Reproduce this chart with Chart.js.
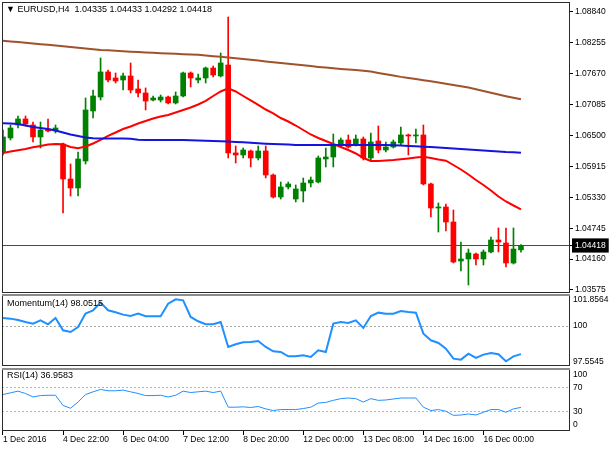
<!DOCTYPE html>
<html>
<head>
<meta charset="utf-8">
<script src="https://cdn.jsdelivr.net/npm/chart.js@4.4.0/dist/chart.umd.min.js"></script>
<style>
  html, body { margin: 0; padding: 0; background: #fff; }
  body { width: 610px; height: 450px; position: relative; overflow: hidden; font-family: 'Liberation Sans', Arial, sans-serif; }
  .pane { position: absolute; left: 0; width: 610px; }
  #mainPane { top: 0; height: 298px; }
  #momPane { top: 293px; height: 74px; }
  #rsiPane { top: 366px; height: 84px; }
  .caption { position: absolute; left: 7px; font-size: 9px; line-height: 11px; color: #000; white-space: pre; }
</style>
</head>
<body>
<div class="pane" id="mainPane"><canvas id="mainChart"></canvas></div>
<div class="pane" id="momPane"><canvas id="momChart"></canvas></div>
<div class="pane" id="rsiPane"><canvas id="rsiChart"></canvas></div>
<div class="caption" style="top:4px;left:6px">▼ EURUSD,H4  1.04335 1.04433 1.04292 1.04418</div>
<div class="caption" style="top:298px">Momentum(14) 98.0515</div>
<div class="caption" style="top:370px">RSI(14) 36.9583</div>
<script>
// EURUSD H4 candles
var opens = [1.06189, 1.06454, 1.06700, 1.06814, 1.06700, 1.06473, 1.06624, 1.06586, 1.06340, 1.05677,
  1.05507, 1.06018, 1.06965, 1.07230, 1.07704, 1.07590, 1.07552, 1.07628, 1.07382, 1.07306,
  1.07173, 1.07173, 1.07230, 1.07117, 1.07249, 1.07685, 1.07552, 1.07590, 1.07779, 1.07628,
  1.07836, 1.06170, 1.06132, 1.06208, 1.06075, 1.06208, 1.05753, 1.05336, 1.05526, 1.05298,
  1.05450, 1.05602, 1.05620, 1.06056, 1.06094, 1.06321, 1.06416, 1.06321, 1.06435, 1.06075,
  1.06397, 1.06226, 1.06283, 1.06359, 1.06511, 1.06492, 1.06511, 1.05583, 1.05128, 1.05147,
  1.04863, 1.04124, 1.04162, 1.04257, 1.04162, 1.04295, 1.04522, 1.04465, 1.04086, 1.04335]
var highs = [1.06605, 1.06700, 1.06870, 1.06870, 1.06757, 1.06757, 1.06814, 1.06700, 1.06359, 1.05961,
  1.06189, 1.07211, 1.07363, 1.07969, 1.07742, 1.07685, 1.07685, 1.07874, 1.07552, 1.07401,
  1.07249, 1.07268, 1.07249, 1.07325, 1.07704, 1.07704, 1.07666, 1.07798, 1.07817, 1.08064,
  1.08745, 1.06302, 1.06264, 1.06226, 1.06302, 1.06302, 1.05772, 1.05620, 1.05620, 1.05564,
  1.05696, 1.05715, 1.06113, 1.06264, 1.06529, 1.06454, 1.06511, 1.06511, 1.06473, 1.06548,
  1.06681, 1.06378, 1.06416, 1.06662, 1.06529, 1.06624, 1.06700, 1.05602, 1.05223, 1.05204,
  1.05090, 1.04484, 1.04351, 1.04276, 1.04333, 1.04579, 1.04749, 1.04749, 1.04749, 1.04433]
var lows = [1.06132, 1.06416, 1.06643, 1.06681, 1.06378, 1.06264, 1.06567, 1.06548, 1.05033, 1.05355,
  1.05355, 1.05961, 1.06833, 1.07173, 1.07514, 1.07495, 1.07363, 1.07306, 1.07230, 1.06984,
  1.07154, 1.07136, 1.07098, 1.07098, 1.07230, 1.07420, 1.07495, 1.07495, 1.07609, 1.07609,
  1.06075, 1.05980, 1.06075, 1.05905, 1.06037, 1.05696, 1.05317, 1.05298, 1.05488, 1.05242,
  1.05242, 1.05526, 1.05602, 1.05905, 1.05905, 1.06283, 1.06264, 1.06302, 1.06037, 1.06037,
  1.06170, 1.06189, 1.06264, 1.06321, 1.06132, 1.06359, 1.05564, 1.04958, 1.04673, 1.04692,
  1.04086, 1.03935, 1.03670, 1.04048, 1.04048, 1.04276, 1.04295, 1.04011, 1.04067, 1.04292]
var closes = [1.06473, 1.06643, 1.06814, 1.06719, 1.06473, 1.06605, 1.06586, 1.06643, 1.05677, 1.05507,
  1.06056, 1.06984, 1.07249, 1.07704, 1.07552, 1.07533, 1.07628, 1.07363, 1.07306, 1.07154,
  1.07211, 1.07230, 1.07117, 1.07249, 1.07685, 1.07590, 1.07590, 1.07779, 1.07647, 1.07874,
  1.06170, 1.06132, 1.06226, 1.06075, 1.06208, 1.05753, 1.05336, 1.05526, 1.05583, 1.05488,
  1.05602, 1.05658, 1.06075, 1.06094, 1.06321, 1.06416, 1.06283, 1.06435, 1.06075, 1.06378,
  1.06226, 1.06283, 1.06378, 1.06511, 1.06492, 1.06511, 1.05583, 1.05128, 1.05147, 1.04863,
  1.04105, 1.04162, 1.04276, 1.04162, 1.04295, 1.04522, 1.04484, 1.04086, 1.04351, 1.04418]

// moving averages
var maSlow = [1.08297, 1.08283, 1.08270, 1.08257, 1.08243, 1.08230, 1.08219, 1.08206, 1.08190, 1.08177,
  1.08162, 1.08149, 1.08134, 1.08120, 1.08113, 1.08105, 1.08096, 1.08088, 1.08081, 1.08073,
  1.08067, 1.08060, 1.08054, 1.08047, 1.08041, 1.08033, 1.08028, 1.08016, 1.08003, 1.07990,
  1.07976, 1.07963, 1.07950, 1.07935, 1.07920, 1.07904, 1.07889, 1.07874, 1.07859, 1.07844,
  1.07831, 1.07815, 1.07800, 1.07787, 1.07774, 1.07762, 1.07751, 1.07740, 1.07728, 1.07711,
  1.07685, 1.07660, 1.07636, 1.07611, 1.07590, 1.07569, 1.07547, 1.07526, 1.07503, 1.07480,
  1.07456, 1.07433, 1.07408, 1.07376, 1.07342, 1.07310, 1.07276, 1.07244, 1.07215, 1.07187]
var maMid = [1.06732, 1.06726, 1.06719, 1.06690, 1.06662, 1.06643, 1.06624, 1.06596, 1.06558, 1.06520,
  1.06492, 1.06463, 1.06448, 1.06444, 1.06444, 1.06443, 1.06444, 1.06441, 1.06420, 1.06416,
  1.06416, 1.06415, 1.06416, 1.06416, 1.06415, 1.06412, 1.06406, 1.06403, 1.06397, 1.06391,
  1.06386, 1.06378, 1.06372, 1.06363, 1.06353, 1.06346, 1.06340, 1.06334, 1.06329, 1.06323,
  1.06322, 1.06321, 1.06322, 1.06320, 1.06321, 1.06322, 1.06320, 1.06321, 1.06321, 1.06320,
  1.06320, 1.06319, 1.06315, 1.06310, 1.06302, 1.06297, 1.06289, 1.06283, 1.06274, 1.06264,
  1.06255, 1.06245, 1.06236, 1.06226, 1.06215, 1.06207, 1.06198, 1.06188, 1.06183, 1.06175]
var maFast = [1.06170, 1.06198, 1.06221, 1.06245, 1.06278, 1.06302, 1.06331, 1.06340, 1.06334, 1.06283,
  1.06259, 1.06293, 1.06350, 1.06416, 1.06492, 1.06558, 1.06624, 1.06672, 1.06728, 1.06776,
  1.06823, 1.06861, 1.06889, 1.06937, 1.06984, 1.07031, 1.07088, 1.07155, 1.07249, 1.07334,
  1.07395, 1.07334, 1.07249, 1.07164, 1.07079, 1.06993, 1.06918, 1.06832, 1.06766, 1.06690,
  1.06605, 1.06520, 1.06454, 1.06397, 1.06340, 1.06283, 1.06226, 1.06160, 1.06075, 1.06018,
  1.06018, 1.06028, 1.06037, 1.06050, 1.06066, 1.06084, 1.06100, 1.06075, 1.06047, 1.06024,
  1.05942, 1.05857, 1.05762, 1.05658, 1.05564, 1.05459, 1.05346, 1.05251, 1.05175, 1.05103]

// indicators
var momentum = [100.561, 100.515, 100.422, 100.284, 100.168, 100.399, 100.122, 100.561, 99.706, 99.590,
  99.937, 100.862, 101.093, 101.625, 101.093, 100.954, 100.793, 100.700, 100.862, 100.677,
  100.677, 100.677, 101.556, 101.8564, 101.787, 100.631, 100.330, 100.122, 100.122, 100.284,
  98.549, 98.734, 98.873, 98.896, 98.966, 98.549, 98.248, 98.202, 97.902, 97.902,
  97.971, 97.855, 98.318, 98.202, 100.168, 100.284, 100.214, 100.399, 99.867, 100.700,
  100.931, 100.862, 100.862, 101.047, 100.978, 100.931, 99.474, 99.012, 98.827, 98.434,
  97.740, 97.670, 98.086, 97.786, 98.017, 98.133, 98.040, 97.5545, 97.900, 98.0515]
var rsi = [58.2, 61.0, 63.8, 59.9, 54.2, 56.5, 57.0, 57.0, 40.1, 35.6,
  45.8, 58.2, 62.7, 66.6, 64.4, 64.4, 65.5, 62.7, 59.9, 56.5,
  56.5, 57.0, 54.2, 57.0, 63.8, 61.5, 62.7, 63.8, 61.5, 63.8,
  37.3, 37.3, 37.9, 36.8, 38.4, 34.5, 31.7, 33.4, 33.4, 33.4,
  35.1, 37.3, 44.1, 45.2, 48.6, 51.4, 52.5, 51.4, 45.8, 51.4,
  48.6, 49.2, 50.8, 52.5, 52.5, 52.5, 37.3, 31.7, 33.4, 30.6,
  23.8, 24.4, 26.1, 24.4, 28.9, 33.4, 33.4, 28.9, 34.5, 36.9583]

// axes
var xTickBars = [0, 8, 16, 24, 32, 40, 48, 56, 64]
var xTickLabels = ['1 Dec 2016', '4 Dec 22:00', '6 Dec 04:00', '7 Dec 12:00', '8 Dec 20:00',
  '12 Dec 00:00', '13 Dec 08:00', '14 Dec 16:00', '16 Dec 00:00']
var priceTicks = [1.03575, 1.04160, 1.04745, 1.05330, 1.05915, 1.06500, 1.07085, 1.07670, 1.08255, 1.08840]
var lastPrice = 1.04418
var momTicks = [97.5545, 100, 101.8564]
var rsiTicks = [0, 30, 70, 100]

var X_MIN = -0.13, X_MAX = 75.53
var GREEN = '#008000', RED = '#ff0000'
var FONT = { family: "'Liberation Sans', Arial, sans-serif", size: 8.5 }
var AXIS_W = 40

// thin frame round each panel, thicker grey edge on top of the sub panels
var panelFrame = {
  id: 'panelFrame',
  afterDraw: function(chart, args, opts) {
    var ctx = chart.ctx, a = chart.chartArea
    ctx.save()
    ctx.strokeStyle = '#2a2a2a'
    ctx.lineWidth = 1
    ctx.strokeRect(a.left + 0.5, a.top + 0.5, a.right - a.left - 1, a.bottom - a.top - 1)
    if (opts.band) {
      ctx.fillStyle = '#8c8c8c'
      ctx.fillRect(a.left, a.top, a.right - a.left, opts.band)
    }
    ctx.restore()
  }
}

// MT4 pulls the 100 / 0 labels inside the window
var edgeLabels = {
  id: 'edgeLabels',
  beforeDraw: function(chart, args, opts) {
    if (!opts.shift) return
    var items = chart.scales.y.getLabelItems()
    if (items.nudged) return
    items.forEach(function(it) {
      if (it.label === '100') it.options.translation[1] += opts.shift
      if (it.label === '0') it.options.translation[1] -= opts.shift
    })
    items.nudged = true
  }
}

// value axes sit flush with the panel, no label overhang padding
function flushY(s) {
  s.width = AXIS_W
  s.paddingTop = 0
  s.paddingBottom = 0
}

function xAxis(show) {
  return {
    type: 'linear', min: X_MIN, max: X_MAX, offset: false, display: show,
    afterBuildTicks: function(s) { s.ticks = xTickBars.map(function(v) { return { value: v } }) },
    afterFit: function(s) { if (show) s.height = 19; s.paddingLeft = 0; s.paddingRight = 0 },
    grid: { drawOnChartArea: false, drawTicks: true, tickLength: 4, tickColor: '#000', offset: false },
    border: { display: false },
    ticks: {
      autoSkip: false, maxRotation: 0, align: 'start', padding: 0, color: '#000', font: FONT,
      callback: function(v) { return xTickLabels[xTickBars.indexOf(v)] }
    }
  }
}

function baseOptions(pad) {
  return {
    animation: false, responsive: true, maintainAspectRatio: false, events: [],
    layout: { padding: pad },
    plugins: { legend: { display: false }, tooltip: { enabled: false } }
  }
}

function pts(arr) {
  return arr.map(function(v, i) { return { x: i, y: v } })
}

function candleColor(c) {
  return closes[c.dataIndex] >= opens[c.dataIndex] ? GREEN : RED
}

function DrawMain() {
  var opts = baseOptions({ top: 2, left: 2, right: 0, bottom: 5 })
  opts.plugins.panelFrame = {}
  opts.scales = {
    x: xAxis(false),
    y: {
      type: 'linear', position: 'right', min: 1.03518, max: 1.09029,
      afterFit: flushY,
      afterBuildTicks: function(s) {
        s.ticks = priceTicks.concat([lastPrice]).map(function(v) { return { value: v } })
      },
      grid: {
        drawOnChartArea: true, drawTicks: true, tickLength: 3, tickColor: '#000',
        color: function(c) { return c.tick && c.tick.value === lastPrice ? '#4a4a4a' : 'rgba(0,0,0,0)' }
      },
      border: { display: false },
      ticks: {
        autoSkip: false, padding: 2, font: FONT,
        color: function(c) { return c.tick && c.tick.value === lastPrice ? '#fff' : '#000' },
        showLabelBackdrop: function(c) { return !!(c.tick && c.tick.value === lastPrice) },
        backdropColor: '#000', backdropPadding: { x: 3, y: 2 },
        callback: function(v) { return v.toFixed(5) }
      }
    }
  }
  var lineSet = function(arr, color) {
    return { type: 'line', data: pts(arr), borderColor: color, borderWidth: 2, pointRadius: 0, tension: 0, order: 0 }
  }
  new Chart(document.getElementById('mainChart').getContext('2d'), {
    type: 'bar',
    data: {
      datasets: [
        lineSet(maSlow, '#a0522d'),
        lineSet(maMid, '#1414e0'),
        lineSet(maFast, '#ff0000'),
        {
          type: 'bar', order: 1, grouped: false, barThickness: 5, minBarLength: 1,
          data: opens.map(function(o, i) { return { x: i, y: [o, closes[i]] } }),
          backgroundColor: candleColor
        },
        {
          type: 'bar', order: 2, grouped: false, barThickness: 1,
          data: lows.map(function(l, i) { return { x: i, y: [l, highs[i]] } }),
          backgroundColor: candleColor
        }
      ]
    },
    options: opts,
    plugins: [panelFrame]
  })
}

function DrawIndicator(id, values, range, ticks, fmt, levelColor, isLevel, width, showX, pad, shift) {
  var opts = baseOptions(pad)
  opts.plugins.panelFrame = { band: 2 }
  opts.plugins.edgeLabels = { shift: shift }
  opts.scales = {
    x: xAxis(showX),
    y: {
      type: 'linear', position: 'right', min: range[0], max: range[1],
      afterFit: flushY,
      afterBuildTicks: function(s) { s.ticks = ticks.map(function(v) { return { value: v } }) },
      grid: {
        drawOnChartArea: true, drawTicks: false,
        color: function(c) { return c.tick && isLevel(c.tick.value) ? levelColor : 'rgba(0,0,0,0)' }
      },
      border: { display: false, dash: [2, 2] },
      ticks: { autoSkip: false, padding: 3, color: '#000', font: FONT, callback: fmt }
    }
  }
  new Chart(document.getElementById(id).getContext('2d'), {
    type: 'line',
    data: {
      datasets: [{ data: pts(values), borderColor: '#1e90ff', borderWidth: width, pointRadius: 0, tension: 0 }]
    },
    options: opts,
    plugins: [panelFrame, edgeLabels]
  })
}

window.onload = function() {
  DrawMain()
  DrawIndicator('momChart', momentum, [97.228, 102.224], momTicks,
    function(v) { return String(v) }, '#a8a8a8', function(v) { return v === 100 },
    2, false, { top: 1, left: 2, right: 0, bottom: 1 }, 0)
  DrawIndicator('rsiChart', rsi, [-2, 102], rsiTicks,
    function(v) { return String(v) }, '#c4b0b0', function(v) { return v === 30 || v === 70 },
    1, true, { top: 2, left: 2, right: 0, bottom: 0 }, 5.5)
}
</script>
</body>
</html>
